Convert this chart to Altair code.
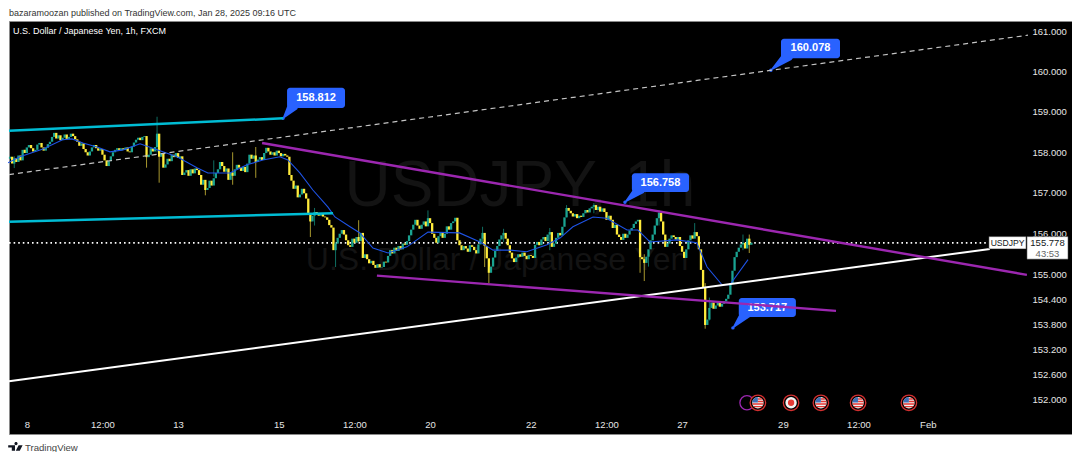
import altair as alt
import pandas as pd

closes = [
157.89,157.72,157.85,157.76,157.92,157.80,158.06,157.98,158.12,158.18,
158.10,158.02,158.06,158.19,158.23,158.12,158.04,158.11,158.20,158.26,
158.38,158.48,158.34,158.42,158.30,158.36,158.44,158.33,158.38,158.46,
158.40,158.32,158.26,158.16,158.22,158.08,158.00,157.92,158.02,158.12,
158.18,158.10,158.04,158.08,157.94,157.80,157.66,157.78,157.90,158.00,
158.06,158.10,158.04,158.10,158.06,158.12,158.02,158.00,158.14,158.24,
158.31,158.36,158.30,158.38,158.40,157.88,157.94,158.10,158.02,158.13,
158.46,157.89,157.98,157.62,157.70,157.84,157.78,157.94,157.88,157.98,
157.86,157.90,157.44,157.50,157.56,157.42,157.58,157.48,157.60,157.56,
157.44,157.20,157.32,157.07,157.12,157.30,157.18,157.36,157.49,157.58,
157.76,157.66,157.52,157.60,157.32,157.50,157.42,157.58,157.69,157.62,
157.54,157.64,157.51,157.72,157.94,157.84,157.92,157.76,157.82,157.88,
157.81,157.98,158.11,158.02,157.94,158.00,157.92,158.04,157.98,157.90,
157.96,157.92,157.89,157.44,157.30,157.10,157.18,156.89,156.96,157.10,
156.99,156.86,156.46,156.30,156.44,156.53,156.48,156.44,156.50,156.42,
156.40,156.34,156.21,156.15,155.60,155.76,155.90,156.00,156.09,155.98,
155.84,155.72,155.68,155.88,155.78,155.92,155.82,156.02,155.41,155.50,
155.38,155.28,155.34,155.24,155.17,155.26,155.18,155.19,155.32,155.30,
155.46,155.60,155.52,155.66,155.58,155.70,155.62,155.76,155.73,155.82,
155.96,156.10,156.22,156.34,156.20,156.12,156.22,156.30,156.18,156.38,
156.26,156.00,155.90,155.78,155.94,156.04,155.90,156.00,156.18,156.10,
156.26,156.30,156.39,155.84,155.72,155.60,155.70,155.64,155.56,155.72,
155.68,155.60,155.52,155.74,155.88,156.02,155.70,155.40,155.05,155.20,
155.42,155.58,155.70,155.86,155.96,156.02,155.88,155.72,155.54,155.40,
155.31,155.42,155.50,155.44,155.54,155.46,155.38,155.48,155.46,155.41,
155.73,155.80,155.72,155.86,155.92,155.82,155.98,156.04,155.68,155.76,
155.90,156.02,155.96,156.17,156.40,156.63,156.56,156.50,156.42,156.48,
156.38,156.44,156.41,156.50,156.58,156.52,156.62,156.66,156.70,156.58,
156.66,156.54,156.62,156.53,156.34,156.44,156.34,156.14,156.22,155.98,
155.92,155.85,156.00,155.90,155.98,156.08,156.14,156.24,156.30,156.34,
155.43,155.38,155.29,155.44,155.62,155.84,155.98,156.20,156.38,156.51,
156.30,155.98,155.68,155.76,155.88,155.96,155.92,155.86,155.92,155.70,
155.56,155.41,155.62,155.84,155.96,155.88,156.04,155.94,155.62,155.12,
154.70,153.79,153.92,154.20,154.33,154.18,154.26,154.34,154.23,154.30,
154.36,154.42,154.52,154.80,155.10,155.43,155.56,155.66,155.74,155.78,
155.64,155.88,155.73,155.78]

# long wicks that stand out: bar, high, low
wick_bar  = [2,65,70,71,93,97,106,117,143,145,155,166,199,225,226,228,235,257,265,278,300,302,304,309,326,331,333,349,352]
wick_high = [157.9,158.4,158.88,157.98,157.2,157.8,158.0,158.13,156.5,156.63,155.8,156.33,156.57,156.17,155.9,155.4,156.12,156.14,156.7,156.75,155.6,155.5,155.6,156.58,156.26,154.8,154.45,155.98,155.98]
wick_low  = [157.61,157.62,158.0,157.25,156.94,157.4,157.2,157.37,155.92,156.2,155.19,155.8,156.2,155.8,155.19,154.8,155.8,155.6,156.4,156.5,155.05,154.85,155.2,156.2,155.9,153.7,153.9,155.6,155.53]

ma_bar   = [0,5.7,16.7,26,30.5,35.7,42.4,48.6,54.8,62.9,71,80.5,90,95.2,105.7,113.8,121.4,129.5,133.3,139,145.2,152.4,155.7,162.9,167.6,173.8,181,190,200,215,224.8,231,239,247,256.7,263,269,278.6,285,294.8,300,305.7,318.6,328,332.9,340,343.8,352.4]
ma_price = [157.74,157.89,158.08,158.31,158.33,158.23,158.13,158.01,158.06,158.21,158.06,157.89,157.62,157.49,157.49,157.69,157.81,157.89,157.81,157.49,157.07,156.65,156.41,156.17,156.02,155.65,155.53,155.68,156.04,156.02,155.80,155.60,155.60,155.56,155.73,155.90,156.17,156.41,156.38,156.09,156.09,155.80,155.85,155.78,155.19,154.76,154.76,155.37]

# trend lines: name, bar0, price0, bar1, price1
trend_lines = [
    ("dashed", 0.5, 157.45, 485.7, 160.92),
    ("white", 0.5, 152.44, 467.6, 155.63),
    ("cyan1", 0.5, 158.53, 131, 158.84),
    ("cyan2", 0.5, 156.29, 154.8, 156.50),
    ("purple1", 121, 158.23, 485.2, 155.00),
    ("purple2", 175.7, 154.98, 394.3, 154.13),
]
line_colors = {"dashed": "#c4c4c4", "white": "#ffffff", "cyan1": "#00bcd4", "cyan2": "#00bcd4",
               "purple1": "#9c27b0", "purple2": "#9c27b0"}
line_widths = {"dashed": 1.2, "white": 2, "cyan1": 2.5, "cyan2": 2.5, "purple1": 2.4, "purple2": 2.4}

last_price = 155.778

# callouts: text, bar0, bar1, price top, price bottom, tail bar, tail price, target bar, target price
callouts = [
    ("158.812", 132.9, 160.5, 159.60, 159.10, 135.7, 159.15, 131.0, 158.84),
    ("160.078", 368.1, 396.2, 160.83, 160.34, 371.4, 160.40, 363.3, 160.04),
    ("156.758", 297.1, 324.3, 157.48, 157.02, 301.0, 157.10, 293.8, 156.77),
    ("153.717", 348.0, 375.2, 154.44, 153.98, 351.4, 154.07, 345.2, 153.72),
]

y_ticks = [161, 160, 159, 158, 157, 156, 155, 154.4, 153.8, 153.2, 152.6, 152]
x_tick_bars = [9, 45, 81, 129, 165, 201, 249, 285, 321, 369, 405, 438]
x_tick_text = ["8", "12:00", "13", "15", "12:00", "20", "22", "12:00", "27", "29", "12:00", "Feb"]

us_event_bars = [357.1, 387.1, 404.8, 429.0]
jp_event_bars = [372.9]
other_event_bars = [351.9]
event_price = 151.93

FONT = "Liberation Sans"
xs = alt.Scale(domain=[0.5, 506.67], nice=False, zero=False, padding=0)
ys = alt.Scale(type="log", domain=[151.19, 161.277], nice=False, zero=False, padding=0)

label_map = "{" + ",".join(f"'{b}':'{t}'" for b, t in zip(x_tick_bars, x_tick_text)) + "}"
xa = alt.Axis(values=x_tick_bars, labelExpr=f"{label_map}[''+datum.value]", title=None, grid=False,
              domain=False, ticks=False, labelPadding=-15, labelColor="#e6e6e6", labelFont=FONT,
              labelFontSize=9.5, labelBaseline="top", labelFlush=False, labelOverlap=False)
ya = alt.Axis(values=y_ticks, format=".3f", title=None, grid=False, domain=False, ticks=False,
              orient="right", labelPadding=-40, labelColor="#e6e6e6", labelFont=FONT, labelFontSize=9.5,
              labelOverlap=False, labelBound=False)

def X(f="x"):
    return alt.X(f"{f}:Q", scale=xs, axis=xa)
def Y(f="y"):
    return alt.Y(f"{f}:Q", scale=ys, axis=ya)

# candles
rows = []
prev = closes[0] - 0.05
for i, c in enumerate(closes):
    rows.append({"x": i + 1, "o": prev, "c": c, "up": "up" if c >= prev else "down"})
    prev = c
candles = pd.DataFrame(rows)
wicks = pd.DataFrame({"x": [b + 1 for b in wick_bar], "hi": wick_high, "lo": wick_low})
wicks["up"] = [candles.loc[candles.x == b, "up"].iloc[0] for b in wicks.x]
wscale = alt.Scale(domain=["up", "down"], range=["#0f6e62", "#a8982e"])

layers = []

def text_layer(df, **kw):
    return alt.Chart(df).mark_text(font=FONT, **kw)

wm = pd.DataFrame({"x": [243.8, 232.9], "y": [157.14, 155.37], "t": ["USDJPY, 1h", "U.S. Dollar / Japanese Yen"], "s": [64, 32]})
layers.append(text_layer(wm, color="#131313").encode(x=X(), y=Y(), text="t:N",
              size=alt.Size("s:Q", scale=None, legend=None)))

dot = pd.DataFrame({"x": [0.5, 467.0], "y": [last_price, last_price]})
layers.append(alt.Chart(dot).mark_line(color="#ffffff", strokeWidth=1.6, strokeDash=[1.6, 3]).encode(x=X(), y=Y()))

layers.append(alt.Chart(wicks).mark_rule(strokeWidth=1).encode(x=X(), y=Y("hi"), y2="lo:Q",
              color=alt.Color("up:N", scale=wscale, legend=None)))
layers.append(alt.Chart(candles).mark_bar(size=2.3).encode(x=X(), y=Y("o"), y2="c:Q",
              color=alt.Color("up:N", scale=alt.Scale(domain=["up", "down"], range=["#1aa391", "#ffeb3b"]), legend=None)))
ma = pd.DataFrame({"x": ma_bar, "y": ma_price})
layers.append(alt.Chart(ma).mark_line(color="#1e53e5", strokeWidth=1.1).encode(x=X(), y=Y()))

# callouts
cdf = pd.DataFrame(callouts, columns=["t", "x0", "x1", "p0", "p1", "tx", "tp", "ax", "ap"])
cdf["xm"] = (cdf.x0 + cdf.x1) / 2
cdf["pm"] = (cdf.p0 + cdf.p1) / 2
BLUE = "#2962ff"
layers.append(alt.Chart(cdf).mark_rect(color=BLUE, cornerRadius=3).encode(x=X("x0"), x2="x1:Q", y=Y("p0"), y2="p1:Q"))
for r in callouts:
    tail = pd.DataFrame({"x": [r[5], r[7]], "y": [r[6], r[8]], "w": [11, 1], "o": [0, 1]})
    layers.append(alt.Chart(tail).mark_trail(color=BLUE).encode(x=X(), y=Y(),
                  size=alt.Size("w:Q", scale=None, legend=None), order="o:Q"))
layers.append(alt.Chart(cdf).mark_point(filled=True, color=BLUE, size=12, opacity=1).encode(x=X("ax"), y=Y("ap")))
layers.append(text_layer(cdf, color="#ffffff", fontSize=11, fontWeight="bold").encode(x=X("xm"), y=Y("pm"), text="t:N"))

# trend lines
for name, b0, p0, b1, p1 in trend_lines:
    d = pd.DataFrame({"x": [b0, b1], "y": [p0, p1]})
    extra = {"strokeDash": [5, 4]} if name == "dashed" else {}
    layers.append(alt.Chart(d).mark_line(color=line_colors[name], strokeWidth=line_widths[name], **extra).encode(x=X(), y=Y()))

# price tags
tag = pd.DataFrame({"x0": [467.1, 485.2], "x1": [484.8, 504.8], "p0": [155.93, 155.93], "p1": [155.63, 155.38]})
layers.append(alt.Chart(tag).mark_rect(color="#ffffff", stroke="#222222", strokeWidth=0.5).encode(x=X("x0"), x2="x1:Q", y=Y("p0"), y2="p1:Q"))
tags = pd.DataFrame({"x": [476.0, 495.0, 495.0], "y": [155.78, 155.778, 155.51], "t": ["USDJPY", "155.778", "43:53"], "c": ["#131722", "#131722", "#666666"], "s": [8.6, 9.5, 9.5]})
layers.append(text_layer(tags).encode(x=X(), y=Y(), text="t:N", color=alt.Color("c:N", scale=None, legend=None),
              size=alt.Size("s:Q", scale=None, legend=None)))

# event markers
def pts(bars, **kw):
    d = pd.DataFrame({"x": bars, "y": [event_price] * len(bars)})
    return alt.Chart(d).mark_point(opacity=1, **kw).encode(x=X(), y=Y())
layers.append(pts(other_event_bars, shape="circle", size=200, fill="#000000", stroke="#9c27b0", strokeWidth=1.3))
allb = us_event_bars + jp_event_bars
layers.append(pts(allb, shape="circle", size=240, fill="#000000", stroke="#d32f2f", strokeWidth=1.3))
layers.append(pts(allb, shape="circle", size=130, filled=True, color="#f2f2f2"))
layers.append(pts(jp_event_bars, shape="circle", size=40, filled=True, color="#e53935"))
layers.append(pts(us_event_bars, size=130, filled=True, color="#e53935",
              shape="M-0.95 0.1H0.95V0.35H-0.95ZM-0.75 0.55H0.75V0.8H-0.75ZM0 -0.35H0.95V-0.1H0ZM0 -0.8H0.7V-0.55H0Z"))
layers.append(pts(us_event_bars, size=130, filled=True, color="#3f6fb5",
              shape="M-0.95 -0.05H0V-0.95H-0.4Q-0.95 -0.6 -0.95 -0.05Z"))

# text around the panel
head = pd.DataFrame({"t": ["bazaramoozan published on TradingView.com, Jan 28, 2025 09:16 UTC", "U.S. Dollar / Japanese Yen, 1h, FXCM"]})
layers.append(alt.Chart(head[:1]).mark_text(font=FONT, fontSize=9, align="left", baseline="middle", color="#333333")
              .encode(x=alt.value(0), y=alt.value(-8.5), text="t:N"))
layers.append(alt.Chart(head[1:]).mark_text(font=FONT, fontSize=9, align="left", baseline="middle", color="#ffffff")
              .encode(x=alt.value(4), y=alt.value(10), text="t:N"))
foot = pd.DataFrame({"t": ["TradingView"]})
layers.append(alt.Chart(foot).mark_text(font=FONT, fontSize=9.6, align="left", baseline="middle", color="#444444")
              .encode(x=alt.value(16), y=alt.value(427), text="t:N"))
layers.append(alt.Chart(foot).mark_point(filled=True, opacity=1, color="#131722", size=64,
              shape="M-1.7 -0.7H0V0.7H-0.8V-0.1H-1.7ZM0.9 -0.7H1.9L1.2 0.7H0.2Z M0.25 -0.7A0.4 0.4 0 1 1 0.26 -0.7Z")
              .encode(x=alt.value(6), y=alt.value(427)))

chart = alt.layer(*layers).resolve_scale(color="independent", size="independent").properties(
    width=1063, height=413, background="#ffffff",
    padding={"left": 1, "top": 13, "right": 0, "bottom": 18},
    autosize=alt.AutoSizeParams(type="none"),
).configure_view(fill="#000000", stroke="#8a8a8a", strokeWidth=1)

chart.save("out.html", embed_options={"renderer": "svg", "actions": False})
